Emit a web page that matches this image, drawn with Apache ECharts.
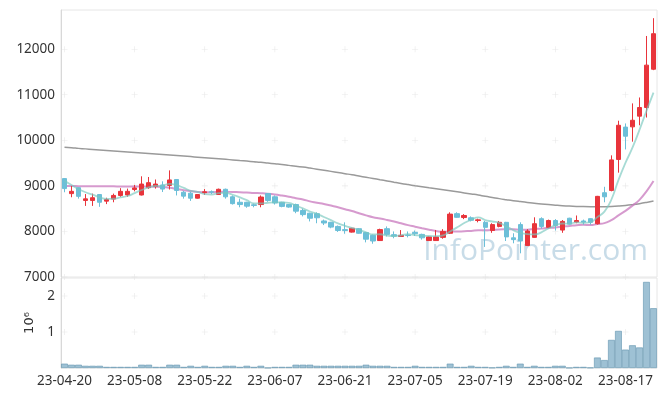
<!DOCTYPE html>
<html><head><meta charset="utf-8">
<script src="https://cdn.jsdelivr.net/npm/echarts@6/dist/echarts.min.js"></script>
<style>html,body{margin:0;padding:0;background:#fff}#c{width:665px;height:396px}</style>
</head><body><div id="c"></div><script>
const dates = ['23-04-20','23-04-21','23-04-24','23-04-25','23-04-26','23-04-27','23-04-28',
'23-05-02','23-05-03','23-05-04','23-05-08','23-05-09','23-05-10','23-05-11','23-05-12','23-05-15','23-05-16','23-05-17','23-05-18','23-05-19','23-05-22','23-05-23','23-05-24','23-05-25','23-05-26','23-05-30','23-05-31',
'23-06-01','23-06-02','23-06-05','23-06-07','23-06-08','23-06-09','23-06-12','23-06-13','23-06-14','23-06-15','23-06-16','23-06-19','23-06-20','23-06-21','23-06-22','23-06-23','23-06-26','23-06-27','23-06-28','23-06-29','23-06-30',
'23-07-03','23-07-04','23-07-05','23-07-06','23-07-07','23-07-10','23-07-11','23-07-12','23-07-13','23-07-14','23-07-17','23-07-18','23-07-19','23-07-20','23-07-21','23-07-24','23-07-25','23-07-26','23-07-27','23-07-28','23-07-31',
'23-08-01','23-08-02','23-08-03','23-08-04','23-08-07','23-08-08','23-08-09','23-08-10','23-08-11','23-08-14','23-08-16','23-08-17','23-08-18','23-08-21','23-08-22','23-08-23'];

const openP = [9160,8830,8960,8680,8680,8810,8665,8710,8790,8800,8920,8800,8960,8985,9020,9010,9140,8860,8840,8730,8850,8870,8810,8925,8760,8640,8640,8585,8590,8830,8760,8640,8590,8590,8460,8400,8390,8230,8200,8110,8040,7985,8060,7975,7915,7800,8060,7930,7890,7920,7980,7935,7800,7800,7870,7960,8390,8305,8300,8240,8200,8020,8110,8200,7860,8150,7690,7870,8280,8090,8240,8030,8290,8205,8230,8280,8170,8850,8900,9580,10290,10295,10530,10720,11560];
const closeP = [8940,8880,8770,8715,8740,8640,8700,8790,8880,8880,8955,9040,9070,9040,8930,9130,8900,8775,8730,8810,8870,8860,8925,8760,8610,8590,8555,8570,8755,8680,8625,8550,8535,8445,8370,8290,8300,8185,8095,8020,8020,8070,7960,7830,7790,8040,7935,7895,7915,7910,7950,7860,7880,7880,8000,8380,8310,8350,8245,8255,8090,8150,8200,7880,7820,7790,8010,8170,8110,8240,8130,8220,8160,8240,8205,8200,8770,8760,9570,10330,10090,10440,10720,11650,12340];
const lowP = [8860,8750,8720,8560,8560,8540,8600,8640,8760,8760,8880,8790,8935,8940,8865,8920,8790,8720,8670,8720,8800,8820,8800,8720,8590,8530,8520,8530,8530,8650,8590,8530,8520,8400,8330,8220,8180,8140,8070,7990,7950,7975,7950,7760,7730,7790,7890,7850,7880,7870,7900,7820,7795,7795,7840,7945,8300,8270,8220,8200,7660,7970,8090,7790,7740,7520,7680,7860,8060,8070,8020,7970,8150,8180,8150,8150,8150,8640,8880,9290,9800,9970,10330,10500,11540];
const highP = [9170,9000,8970,8820,8830,8820,8740,8830,8950,8940,9020,9210,9195,9140,9100,9340,9150,8890,8870,8815,8930,8900,8940,8940,8790,8720,8650,8610,8790,8840,8790,8650,8600,8610,8500,8410,8420,8260,8210,8130,8200,8080,8070,7990,7930,8060,8110,8000,8030,8000,8020,7950,7890,8030,8050,8420,8420,8380,8330,8280,8230,8180,8230,8210,7960,8200,8050,8310,8310,8260,8270,8250,8300,8350,8260,8290,8780,8980,9670,10430,10370,10810,10940,12290,12680];

const ma5 = [9110,9020,8930,8860,8809,8749,8713,8717,8750,8778,8841,8909,8965,8997,9007,9042,9014,8955,8893,8869,8817,8809,8839,8845,8805,8749,8688,8617,8616,8630,8637,8636,8629,8567,8505,8438,8388,8318,8248,8178,8124,8078,8033,7980,7934,7938,7911,7898,7915,7939,7921,7906,7903,7896,7914,8000,8090,8184,8257,8308,8250,8218,8188,8115,8028,7968,7940,7934,7980,8064,8132,8174,8172,8198,8191,8205,8315,8435,8701,9126,9504,9838,10230,10646,11048];
const ma20 = [8995,8995,8994,8993,8992,8991,8990,8989,8988,8987,8986,8985,8984,8982,8975,8958,8932,8905,8885,8866,8862,8861,8869,8871,8865,8862,8855,8844,8838,8828,8811,8787,8760,8730,8702,8660,8630,8601,8569,8530,8487,8448,8399,8353,8312,8284,8253,8220,8178,8139,8105,8071,8038,8010,7991,7996,7996,8005,8012,8024,8027,8031,8043,8046,8047,8035,8039,8052,8062,8079,8088,8106,8120,8138,8148,8139,8162,8182,8249,8352,8452,8567,8693,8881,9107];
const ma120 = [9845,9835,9823,9812,9801,9790,9779,9768,9757,9746,9735,9724,9713,9702,9690,9678,9666,9654,9642,9630,9618,9606,9594,9582,9570,9557,9544,9530,9516,9500,9484,9468,9450,9432,9412,9390,9367,9343,9318,9293,9268,9243,9216,9189,9162,9135,9108,9080,9053,9028,9004,8981,8958,8936,8914,8892,8869,8846,8823,8800,8770,8745,8720,8697,8675,8655,8636,8619,8603,8589,8577,8566,8557,8550,8545,8542,8541,8543,8548,8557,8570,8588,8610,8637,8668];

const volume = [120000,90000,90000,60000,60000,60000,30000,30000,30000,30000,30000,90000,90000,30000,30000,90000,90000,30000,60000,30000,60000,30000,30000,60000,60000,30000,60000,30000,60000,5000,30000,30000,30000,90000,90000,90000,60000,60000,60000,60000,60000,60000,60000,90000,60000,60000,60000,30000,30000,30000,60000,30000,30000,30000,30000,120000,30000,30000,60000,30000,30000,10000,30000,60000,30000,120000,30000,60000,30000,30000,60000,60000,5000,30000,30000,10000,290000,220000,780000,1030000,510000,630000,570000,2390000,1660000];

const priceTicks = [7000,8000,9000,10000,11000,12000];
const volTicks = [1000000,2000000];
const tickEvery = 10;

const candleData = dates.map((d,i)=>[openP[i],closeP[i],lowP[i],highP[i]]);
const markCats = dates.filter((d,i)=>i%tickEvery===0);
const crossMain = [], crossVol = [];
markCats.forEach(c=>{ priceTicks.forEach(v=>crossMain.push([c,v])); volTicks.forEach(v=>crossVol.push([c,v])); });
const crossSym = 'path://M4.5,0h1v10h-1zM0,4.5h10v1h-10z';

const chart = echarts.init(document.getElementById('c'), null, {renderer:'canvas'});
const font = 'Noto Sans';
chart.setOption({
  animation:false,
  backgroundColor:'#fff',
  grid:[
    {left:61,right:8,top:10,height:267,show:true,borderColor:'#e6e6e6',borderWidth:1},
    {left:61,right:8,top:278,height:90,show:true,borderColor:'#e6e6e6',borderWidth:1}
  ],
  xAxis:[
    {type:'category',gridIndex:0,data:dates,boundaryGap:true,axisLine:{show:false},axisTick:{show:false},axisLabel:{show:false},splitLine:{show:false}},
    {type:'category',gridIndex:1,data:dates,boundaryGap:true,axisLine:{show:false},axisTick:{show:false},
     axisLabel:{interval:tickEvery-1,color:'#333',fontSize:13.5,fontFamily:font,margin:6},splitLine:{show:false}}
  ],
  yAxis:[
    {type:'value',gridIndex:0,min:7000,max:12860,interval:1000,axisLine:{show:true,lineStyle:{color:'#d8d8d8'}},axisTick:{show:false},
     splitLine:{show:false},axisLabel:{color:'#333',fontSize:13.5,fontFamily:font,margin:6,showMaxLabel:false,formatter:v=>String(v)}},
    {type:'value',gridIndex:1,min:0,max:2500000,interval:1000000,axisLine:{show:true,lineStyle:{color:'#d8d8d8'}},axisTick:{show:false},
     splitLine:{show:false},name:'10\u2076',nameLocation:'middle',nameRotate:90,nameGap:19,
     nameTextStyle:{color:'#333',fontSize:13,fontFamily:'DejaVu Sans'},
     axisLabel:{color:'#333',fontSize:13.5,fontFamily:font,margin:6,showMinLabel:false,showMaxLabel:false,formatter:v=>String(v/1000000)}}
  ],
  graphic:[{type:'text',right:17,top:236,z:0,silent:true,style:{text:'InfoPointer.com',font:'30px "Open Sans"',fill:'rgba(145,185,210,0.5)'}}],
  series:[
    {type:'scatter',xAxisIndex:0,yAxisIndex:0,data:crossMain,symbol:crossSym,symbolSize:6,itemStyle:{color:'#e2e2e2'},silent:true,z:1},
    {type:'scatter',xAxisIndex:1,yAxisIndex:1,data:crossVol,symbol:crossSym,symbolSize:6,itemStyle:{color:'#e2e2e2'},silent:true,z:1},
    {type:'line',xAxisIndex:0,yAxisIndex:0,data:ma120,symbol:'none',smooth:true,lineStyle:{color:'#9a9a9a',width:1.5},z:2},
    {type:'line',xAxisIndex:0,yAxisIndex:0,data:ma20,symbol:'none',smooth:true,lineStyle:{color:'rgba(200,120,190,0.75)',width:2},z:3},
    {type:'candlestick',xAxisIndex:0,yAxisIndex:0,data:candleData,barWidth:'70%',
     itemStyle:{color:'#e8343b',color0:'#6cbfd8',borderColor:'#e8343b',borderColor0:'#6cbfd8',borderWidth:1},z:4},
    {type:'line',xAxisIndex:0,yAxisIndex:0,data:ma5,symbol:'none',smooth:true,lineStyle:{color:'rgba(120,200,190,0.65)',width:1.8},z:5},
    {type:'bar',xAxisIndex:1,yAxisIndex:1,data:volume,barCategoryGap:'4%',
     itemStyle:{color:'rgba(125,172,198,0.75)',borderColor:'#6294ae',borderWidth:0.6},z:3}
  ]
});
</script></body></html>
